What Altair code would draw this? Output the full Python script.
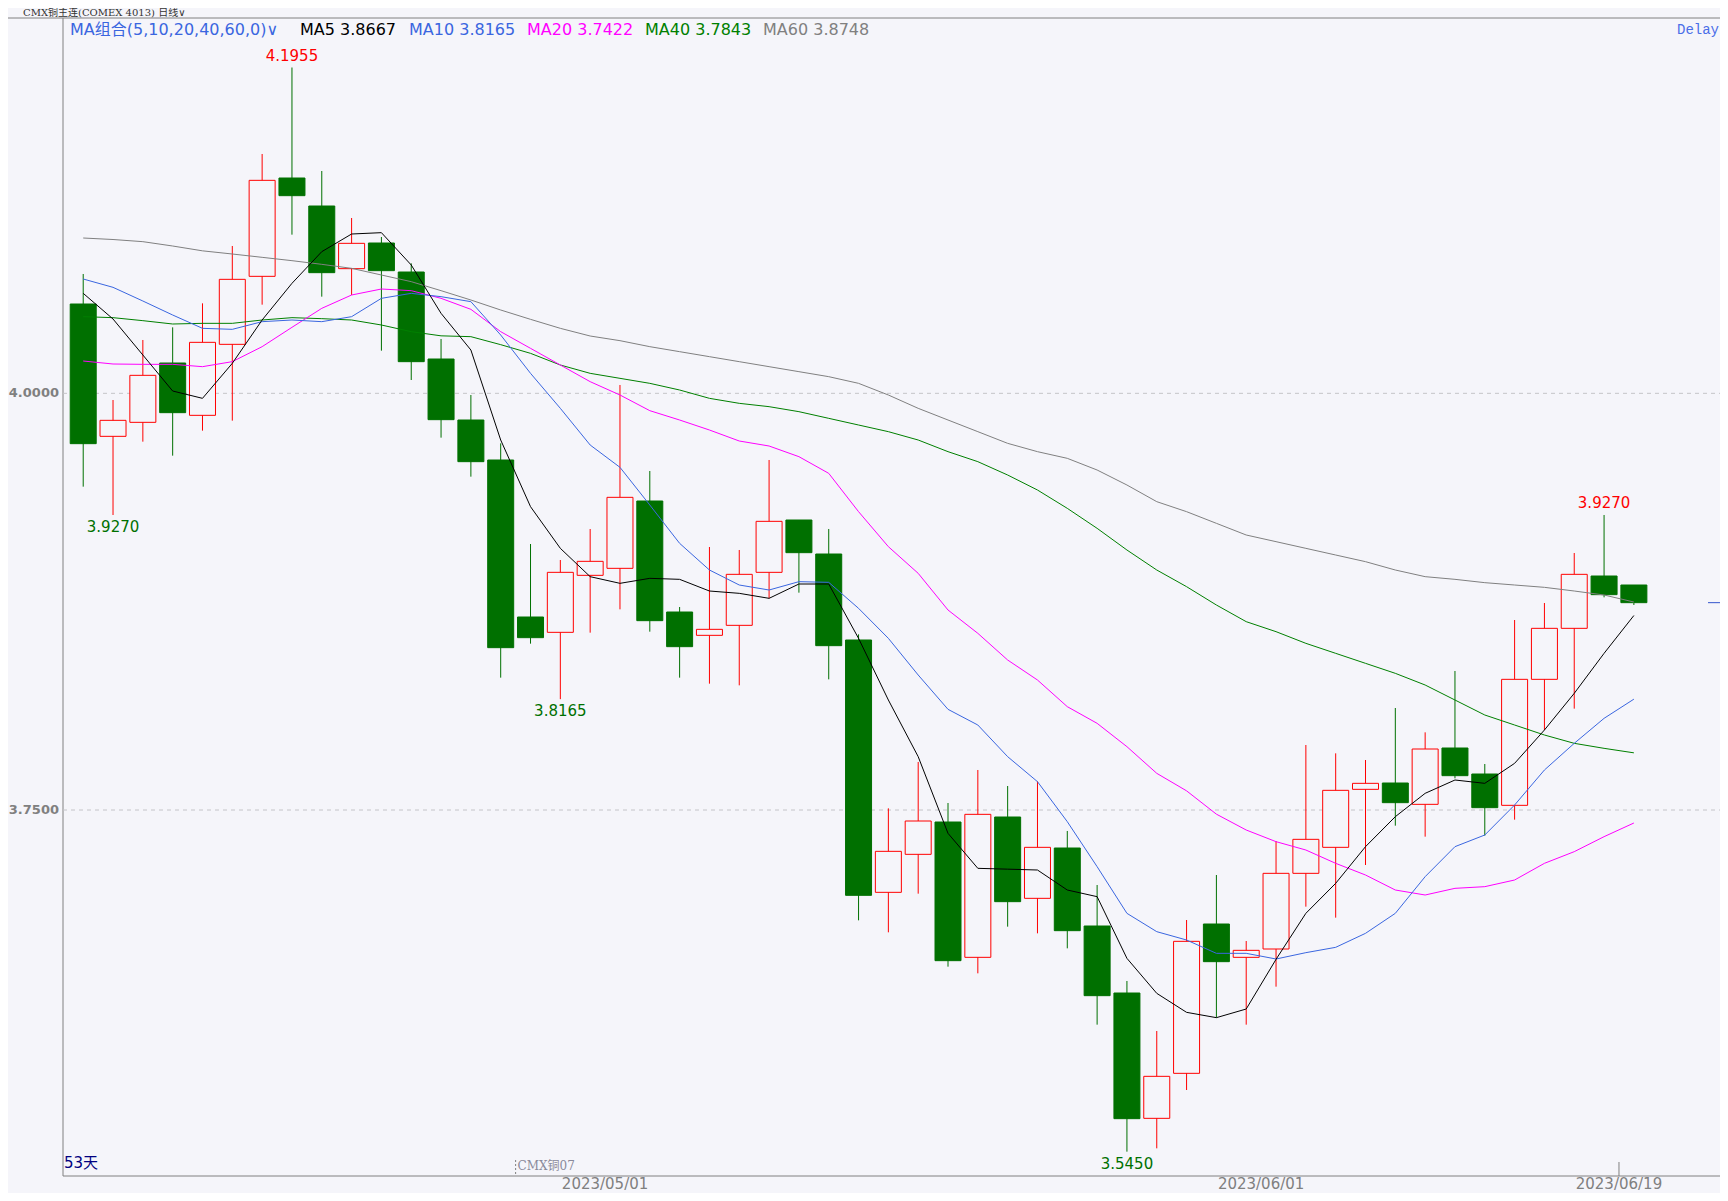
import altair as alt
import pandas as pd

# ---------------- data ----------------
opens = [4.0536, 3.9742, 3.9826, 4.0182, 3.9868, 4.0294, 4.0702, 4.1292, 4.1124, 4.0748,
         4.0902, 4.0728, 4.0206, 3.9840, 3.9600, 3.8658, 3.8566, 3.8908, 3.8950, 3.9354,
         3.8688, 3.8548, 3.8608, 3.8926, 3.9240, 3.9036, 3.8520, 3.7006, 3.7234, 3.7428,
         3.6616, 3.7458, 3.6970, 3.7272, 3.6804, 3.6402, 3.5650, 3.5920, 3.6816, 3.6616,
         3.6666, 3.7120, 3.7276, 3.7624, 3.7662, 3.7534, 3.7872, 3.7716, 3.7528, 3.8284,
         3.8590, 3.8904, 3.8850]
closes = [3.9698, 3.9838, 4.0108, 3.9884, 4.0306, 4.0684, 4.1278, 4.1186, 4.0724, 4.0900,
          4.0736, 4.0190, 3.9842, 3.9590, 3.8474, 3.8534, 3.8926, 3.8992, 3.9376, 3.8636,
          3.8480, 3.8584, 3.8914, 3.9232, 3.9044, 3.8486, 3.6988, 3.7252, 3.7434, 3.6596,
          3.7474, 3.6950, 3.7276, 3.6776, 3.6386, 3.5648, 3.5902, 3.6712, 3.6590, 3.6658,
          3.7120, 3.7324, 3.7618, 3.7660, 3.7544, 3.7866, 3.7706, 3.7514, 3.8284, 3.8590,
          3.8914, 3.8792, 3.8744]
highs = [4.0716, 3.9960, 4.0320, 4.0396, 4.0540, 4.0884, 4.1436, 4.1955, 4.1334, 4.1052,
         4.0938, 4.0780, 4.0326, 3.9990, 3.9700, 3.9096, 3.9000, 3.9186, 4.0050, 3.9534,
         3.8718, 3.9078, 3.9060, 3.9600, 3.9240, 3.9186, 3.8554, 3.7510, 3.7788, 3.7542,
         3.7740, 3.7644, 3.7672, 3.7374, 3.7050, 3.6474, 3.6174, 3.6840, 3.7110, 3.6714,
         3.7314, 3.7890, 3.7840, 3.7800, 3.8112, 3.7966, 3.8334, 3.7776, 3.8640, 3.8742,
         3.9042, 3.9270, 3.8850]
lows = [3.9440, 3.9270, 3.9710, 3.9626, 3.9776, 3.9836, 4.0532, 4.0952, 4.0580, 4.0590,
        4.0256, 4.0080, 3.9734, 3.9500, 3.8294, 3.8498, 3.8165, 3.8564, 3.8704, 3.8570,
        3.8294, 3.8258, 3.8248, 3.8770, 3.8804, 3.8284, 3.6838, 3.6766, 3.6998, 3.6560,
        3.6520, 3.6800, 3.6760, 3.6670, 3.6212, 3.5450, 3.5470, 3.5820, 3.6254, 3.6212,
        3.6440, 3.6920, 3.6854, 3.7170, 3.7406, 3.7340, 3.7690, 3.7346, 3.7442, 3.7980,
        3.8108, 3.8776, 3.8730]

ma5 = [4.0600, 4.0446, 4.0230, 4.0014, 3.9970, 4.0180, 4.0440, 4.0660, 4.0850, 4.0956,
       4.0964, 4.0770, 4.0480, 4.0260, 3.9720, 3.9320, 3.9070, 3.8900, 3.8860, 3.8890,
       3.8884, 3.8814, 3.8800, 3.8770, 3.8856, 3.8856, 3.8530, 3.8160, 3.7820, 3.7360,
       3.7150, 3.7145, 3.7140, 3.7020, 3.6980, 3.6610, 3.6400, 3.6286, 3.6254, 3.6306,
       3.6604, 3.6880, 3.7060, 3.7280, 3.7460, 3.7600, 3.7680, 3.7660, 3.7780, 3.7980,
       3.8200, 3.8440, 3.8667]
ma10 = [4.0686, 4.0636, 4.0554, 4.0470, 4.0390, 4.0384, 4.0430, 4.0440, 4.0430, 4.0460,
        4.0570, 4.0600, 4.0580, 4.0550, 4.0350, 4.0120, 3.9910, 3.9690, 3.9556, 3.9330,
        3.9100, 3.8940, 3.8850, 3.8820, 3.8870, 3.8866, 3.8710, 3.8530, 3.8310, 3.8104,
        3.8010, 3.7820, 3.7670, 3.7430, 3.7160, 3.6880, 3.6770, 3.6720, 3.6640, 3.6640,
        3.6606, 3.6644, 3.6676, 3.6760, 3.6880, 3.7100, 3.7280, 3.7350, 3.7530, 3.7740,
        3.7900, 3.8050, 3.8165]
ma20 = [4.0194, 4.0176, 4.0174, 4.0174, 4.0160, 4.0190, 4.0280, 4.0396, 4.0510, 4.0590,
        4.0626, 4.0616, 4.0570, 4.0504, 4.0370, 4.0270, 4.0170, 4.0070, 3.9990, 3.9896,
        3.9840, 3.9780, 3.9714, 3.9684, 3.9620, 3.9520, 3.9290, 3.9080, 3.8920, 3.8700,
        3.8560, 3.8400, 3.8280, 3.8120, 3.8020, 3.7880, 3.7720, 3.7615, 3.7475, 3.7380,
        3.7310, 3.7260, 3.7180, 3.7110, 3.7020, 3.6990, 3.7030, 3.7040, 3.7080, 3.7180,
        3.7250, 3.7340, 3.7422]
ma40 = [4.0460, 4.0454, 4.0436, 4.0416, 4.0420, 4.0420, 4.0440, 4.0454, 4.0448, 4.0440,
        4.0410, 4.0370, 4.0345, 4.0340, 4.0292, 4.0240, 4.0170, 4.0120, 4.0090, 4.0060,
        4.0020, 3.9970, 3.9940, 3.9920, 3.9890, 3.9850, 3.9810, 3.9770, 3.9720, 3.9650,
        3.9590, 3.9510, 3.9420, 3.9310, 3.9190, 3.9060, 3.8940, 3.8840, 3.8730, 3.8630,
        3.8570, 3.8500, 3.8440, 3.8380, 3.8320, 3.8250, 3.8160, 3.8070, 3.8010, 3.7950,
        3.7900, 3.7870, 3.7843]
ma60 = [4.0932, 4.0923, 4.0910, 4.0884, 4.0855, 4.0836, 4.0816, 4.0796, 4.0774, 4.0750,
        4.0710, 4.0670, 4.0616, 4.0560, 4.0500, 4.0444, 4.0390, 4.0344, 4.0316, 4.0280,
        4.0250, 4.0220, 4.0190, 4.0160, 4.0130, 4.0100, 4.0060, 3.9990, 3.9910, 3.9840,
        3.9770, 3.9700, 3.9650, 3.9610, 3.9540, 3.9450, 3.9350, 3.9290, 3.9220, 3.9150,
        3.9110, 3.9070, 3.9030, 3.8990, 3.8940, 3.8900, 3.8884, 3.8864, 3.8850, 3.8836,
        3.8814, 3.8790, 3.8748]

ma_names = ["MA60", "MA40", "MA20", "MA10", "MA5"]
ma_series = [ma60, ma40, ma20, ma10, ma5]
ma_colors = ["#808080", "#008000", "#ff00ff", "#3a66e0", "#000000"]

legend_texts = ["MA组合(5,10,20,40,60,0)∨", "MA5 3.8667", "MA10 3.8165",
                "MA20 3.7422", "MA40 3.7843", "MA60 3.8748"]
legend_colors = ["#3a66e0", "#000000", "#3a66e0", "#ff00ff", "#008000", "#808080"]

grid_values = [4.0, 3.75]
date_pos = [17.5, 39.5, 51.5]
date_labels = ["2023/05/01", "2023/06/01", "2023/06/19"]
high_marks = [7, 51]
low_marks = [1, 16, 35]

BG = "#f5f5fa"
W, H = 1657, 1158
UP, DOWN = "#ff0000", "#007000"
GRAY = "#808080"
FONT = "DejaVu Sans, Noto Sans CJK SC"

xs = alt.Scale(domain=[-0.51, 54.72], nice=False, zero=False)
ys = alt.Scale(domain=[3.5304, 4.2252], nice=False, zero=False)

idx = list(range(len(opens)))
candles = pd.DataFrame({"i": idx, "open": opens, "close": closes,
                        "high": highs, "low": lows})
candles["dir"] = ["up" if c >= o else "down" for o, c in zip(opens, closes)]

ma_df = pd.DataFrame([{"i": i, "v": v, "name": n}
                      for n, s in zip(ma_names, ma_series) for i, v in enumerate(s)])

one = pd.DataFrame({"a": [0]})
X = alt.X("i:Q", scale=xs, axis=None)

layers = []

# frame lines
layers.append(alt.Chart(one).mark_rule(color=GRAY, strokeWidth=1).encode(
    x=alt.value(-55), x2=alt.value(W), y=alt.value(0)))
layers.append(alt.Chart(one).mark_rule(color=GRAY, strokeWidth=1).encode(
    x=alt.value(0), y=alt.value(0), y2=alt.value(H)))
layers.append(alt.Chart(one).mark_rule(color=GRAY, strokeWidth=1).encode(
    x=alt.value(0), x2=alt.value(W), y=alt.value(H)))

# grid lines + y labels
grid = pd.DataFrame({"v": grid_values})
layers.append(alt.Chart(grid).mark_rule(color="#c4c4c8", strokeDash=[4, 4], strokeWidth=1).encode(
    y=alt.Y("v:Q", scale=ys, axis=None), x=alt.value(0), x2=alt.value(W)))
layers.append(alt.Chart(grid).mark_text(align="right", baseline="middle", font="DejaVu Sans",
                                        fontSize=13, fontWeight="bold", color=GRAY).encode(
    y=alt.Y("v:Q", scale=ys, axis=None), x=alt.value(-4),
    text=alt.Text("v:Q", format=".4f")))

# wicks
dir_stroke = alt.Scale(domain=["up", "down"], range=[UP, DOWN])
layers.append(alt.Chart(candles).mark_rule(strokeWidth=1).encode(
    x=X, y=alt.Y("low:Q", scale=ys, axis=None), y2="high:Q",
    stroke=alt.Stroke("dir:N", scale=dir_stroke, legend=None)))
# bodies
layers.append(alt.Chart(candles).mark_bar(size=26, strokeWidth=1).encode(
    x=X, y=alt.Y("open:Q", scale=ys, axis=None), y2="close:Q",
    fill=alt.Fill("dir:N", scale=alt.Scale(domain=["up", "down"], range=[BG, DOWN]), legend=None),
    stroke=alt.Stroke("dir:N", scale=dir_stroke, legend=None)))

# moving averages
layers.append(alt.Chart(ma_df).mark_line(strokeWidth=1).encode(
    x=X, y=alt.Y("v:Q", scale=ys, axis=None),
    color=alt.Color("name:N", scale=alt.Scale(domain=ma_names, range=ma_colors), legend=None),
    order="i:Q"))

# extreme value labels
hi_df = pd.DataFrame({"i": high_marks, "p": [highs[k] for k in high_marks]})
lo_df = pd.DataFrame({"i": low_marks, "p": [lows[k] for k in low_marks]})
layers.append(alt.Chart(hi_df).mark_text(dy=-12, baseline="middle", font="DejaVu Sans",
                                         fontSize=15, color="#ff0000").encode(
    x=X, y=alt.Y("p:Q", scale=ys, axis=None), text=alt.Text("p:Q", format=".4f")))
layers.append(alt.Chart(lo_df).mark_text(dy=12, baseline="middle", font="DejaVu Sans",
                                         fontSize=15, color="#007000").encode(
    x=X, y=alt.Y("p:Q", scale=ys, axis=None), text=alt.Text("p:Q", format=".4f")))

# last price marker
last_df = pd.DataFrame({"p": [closes[-1]]})
layers.append(alt.Chart(last_df).mark_rule(color="#3355cc", strokeWidth=1).encode(
    y=alt.Y("p:Q", scale=ys, axis=None), x=alt.value(W - 12), x2=alt.value(W)))

# date labels + tick
dates = pd.DataFrame({"pos": date_pos, "label": date_labels})
layers.append(alt.Chart(dates).mark_text(baseline="middle", font="DejaVu Sans",
                                         fontSize=15, color=GRAY).encode(
    x=alt.X("pos:Q", scale=xs, axis=None), y=alt.value(H + 8), text="label:N"))
layers.append(alt.Chart(dates.tail(1)).mark_rule(color=GRAY, strokeWidth=1).encode(
    x=alt.X("pos:Q", scale=xs, axis=None), y=alt.value(H - 14), y2=alt.value(H)))

# contract switch marker
sw = pd.DataFrame({"pos": [14.5], "label": ["CMX铜07"]})
layers.append(alt.Chart(sw).mark_rule(color=GRAY, strokeWidth=1, strokeDash=[2, 2]).encode(
    x=alt.X("pos:Q", scale=xs, axis=None), y=alt.value(H - 16), y2=alt.value(H)))
layers.append(alt.Chart(sw).mark_text(align="left", baseline="middle", dx=2,
                                      font="DejaVu Serif, Noto Sans CJK SC", fontSize=12,
                                      color="#8a8a9a").encode(
    x=alt.X("pos:Q", scale=xs, axis=None), y=alt.value(H - 10), text="label:N"))

# days count
layers.append(alt.Chart(one).mark_text(align="left", baseline="middle", font=FONT,
                                       fontSize=15, color="#000080").encode(
    x=alt.value(1), y=alt.value(H - 13), text=alt.value("53天")))

# legend row
legend_x = [7, 237, 346, 464, 582, 700]
for t, c, lx in zip(legend_texts, legend_colors, legend_x):
    layers.append(alt.Chart(one).mark_text(align="left", baseline="middle", font=FONT,
                                           fontSize=16, color=c).encode(
        x=alt.value(lx), y=alt.value(12), text=alt.value(t)))

layers.append(alt.Chart(one).mark_text(align="right", baseline="middle",
                                       font="Liberation Mono", fontSize=14,
                                       color="#4a6ee8").encode(
    x=alt.value(W - 1), y=alt.value(12), text=alt.value("Delay")))

# title in the thin strip above the frame line
layers.append(alt.Chart(one).mark_text(align="left", baseline="middle",
                                       font="DejaVu Serif, Noto Sans CJK SC", fontSize=10,
                                       color="#333333").encode(
    x=alt.value(-40), y=alt.value(-5), text=alt.value("CMX铜主连(COMEX 4013)   日线∨")))

chart = alt.layer(*layers).properties(
    width=W, height=H,
    padding={"left": 55, "top": 10, "right": 0, "bottom": 17},
    autosize=alt.AutoSizeParams(type="none"),
    background=BG,
).configure_view(stroke=None)

chart.save("out.html", embed_options={"renderer": "svg", "actions": False})
